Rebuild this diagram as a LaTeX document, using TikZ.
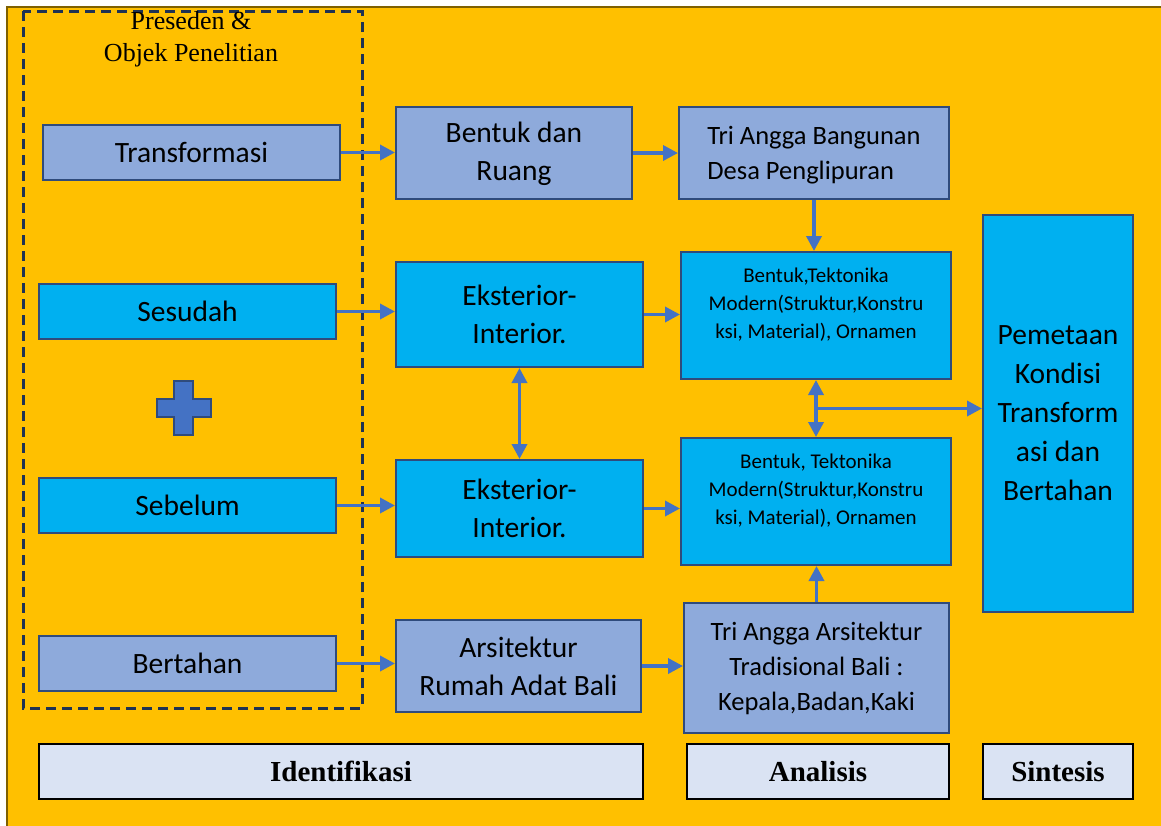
\documentclass[tikz,border=0pt]{standalone}
\usepackage{fontspec}
\setmainfont{Liberation Serif}
\newfontfamily\calibri{Carlito}
\usepackage{tikz}
\usetikzlibrary{arrows.meta, calc}
\definecolor{frameorange}{HTML}{FFC000}
\definecolor{framegold}{HTML}{7F6000}
\definecolor{paleblue}{HTML}{8EAADB}
\definecolor{skyblue}{HTML}{00B0F0}
\definecolor{boxedge}{HTML}{2F4B7C}
\definecolor{arrowblue}{HTML}{4472C4}
\definecolor{dashnavy}{HTML}{1F3253}
\definecolor{stagefill}{HTML}{DAE3F3}

\begin{document}
\begin{tikzpicture}[x=1pt, y=-1pt,
    box/.style={rectangle, draw=boxedge, line width=2pt, align=center, inner sep=0pt, font=\calibri\fontsize{29.5}{38}\selectfont},
    pale/.style={box, fill=paleblue},
    sky/.style={box, fill=skyblue},
    smalltext/.style={font=\calibri\fontsize{21}{28}\selectfont, text depth=24pt},
    stage/.style={rectangle, draw=black, line width=2.5pt, fill=stagefill, minimum height=55pt, font=\bfseries\fontsize{29}{34}\selectfont},
    arrow/.style={-{Triangle[length=15pt, width=15pt]}, line width=3.5pt, arrowblue},
    twoway/.style={arrow, {Triangle[length=15pt, width=15pt]}-{Triangle[length=15pt, width=15pt]}},
]
% background and frame
\useasboundingbox (0,0) rectangle (1161,825);
\fill[white] (0,0) rectangle (1161,825);
\filldraw[fill=frameorange, draw=framegold, line width=2pt] (7,7) rectangle (1175,840);

% precedent group
\draw[dashnavy, line width=3pt, dash pattern=on 10pt off 6pt] (23,11) rectangle (362,708);
\node[font=\fontsize{26}{32}\selectfont, align=center] (title) at (191,39) {Preseden \&\\Objek Penelitian};

\node[pale, minimum width=297pt, minimum height=55pt] (trans) at (191.5,152.5) {Transformasi};
\node[sky, minimum width=297pt, minimum height=55pt] (sesudah) at (187.5,311.5) {Sesudah};
\node[sky, minimum width=297pt, minimum height=55pt] (sebelum) at (187.5,505.5) {Sebelum};
\node[pale, minimum width=297pt, minimum height=55pt] (bertahan) at (187.5,663.5) {Bertahan};
\filldraw[fill=arrowblue, draw=boxedge, line width=1.5pt]
    (174,381) -- (193,381) -- (193,399) -- (211,399) -- (211,417) -- (193,417)
    -- (193,435) -- (174,435) -- (174,417) -- (157,417) -- (157,399) -- (174,399) -- cycle;

% middle column
\node[pale, minimum width=236pt, minimum height=92pt, text depth=3pt] (ruang) at (514,153) {Bentuk dan\\Ruang};
\node[sky, minimum width=247pt, minimum height=105pt] (eksA) at (519.5,314.5) {Eksterior-\\Interior.};
\node[sky, minimum width=247pt, minimum height=97pt] (eksB) at (519.5,508.5) {Eksterior-\\Interior.};
\node[pale, minimum width=245pt, minimum height=92pt] (adat) at (518.5,666) {Arsitektur\\Rumah Adat Bali};

% analysis column
\node[pale, minimum width=270pt, minimum height=92pt, font=\calibri\fontsize{26.5}{35}\selectfont, align=left, text depth=0pt] (triB) at (814,153) {Tri Angga Bangunan\\Desa Penglipuran};
\node[sky, smalltext, minimum width=270pt, minimum height=127pt] (tekA) at (816,315.5) {Bentuk,Tektonika\\Modern(Struktur,Konstru\\ksi, Material), Ornamen};
\node[sky, smalltext, minimum width=270pt, minimum height=127pt] (tekB) at (816,501.5) {Bentuk, Tektonika\\Modern(Struktur,Konstru\\ksi, Material), Ornamen};
\node[pale, minimum width=265pt, minimum height=130pt, font=\calibri\fontsize{26.5}{35}\selectfont] (triA) at (816.5,668) {Tri Angga Arsitektur\\Tradisional Bali :\\Kepala,Badan,Kaki};

% synthesis
\node[sky, minimum width=150pt, minimum height=397pt, font=\calibri\fontsize{29.5}{39}\selectfont] (peta) at (1058,413.5) {Pemetaan\\Kondisi\\Transform\\asi dan\\Bertahan};

% stage labels
\node[stage, minimum width=604pt] (ident) at (341,771.5) {Identifikasi};
\node[stage, minimum width=262pt] (anal) at (818,771.5) {Analisis};
\node[stage, minimum width=150pt] (sint) at (1058,771.5) {Sintesis};

% connectors
\draw[arrow] (trans.east) -- (trans.east -| ruang.west);
\draw[arrow] (ruang.east) -- (ruang.east -| triB.west);
\draw[arrow] (triB.south) -- (triB.south |- tekA.north);
\draw[arrow] (sesudah.east) -- (sesudah.east -| eksA.west);
\draw[arrow] (eksA.east) -- (eksA.east -| tekA.west);
\draw[twoway] (eksA.south) -- (eksA.south |- eksB.north);
\draw[twoway] (tekA.south) -- (tekA.south |- tekB.north);
\coordinate (split) at ($(tekA.south)!0.5!(tekB.north)$);
\draw[arrow] (split) -- (split -| peta.west);
\draw[arrow] (sebelum.east) -- (sebelum.east -| eksB.west);
\draw[arrow] (eksB.east) -- (eksB.east -| tekB.west);
\draw[arrow] (bertahan.east) -- (bertahan.east -| adat.west);
\draw[arrow] (adat.east) -- (adat.east -| triA.west);
\draw[arrow] (triA.north) -- (triA.north |- tekB.south);
\end{tikzpicture}
\end{document}
